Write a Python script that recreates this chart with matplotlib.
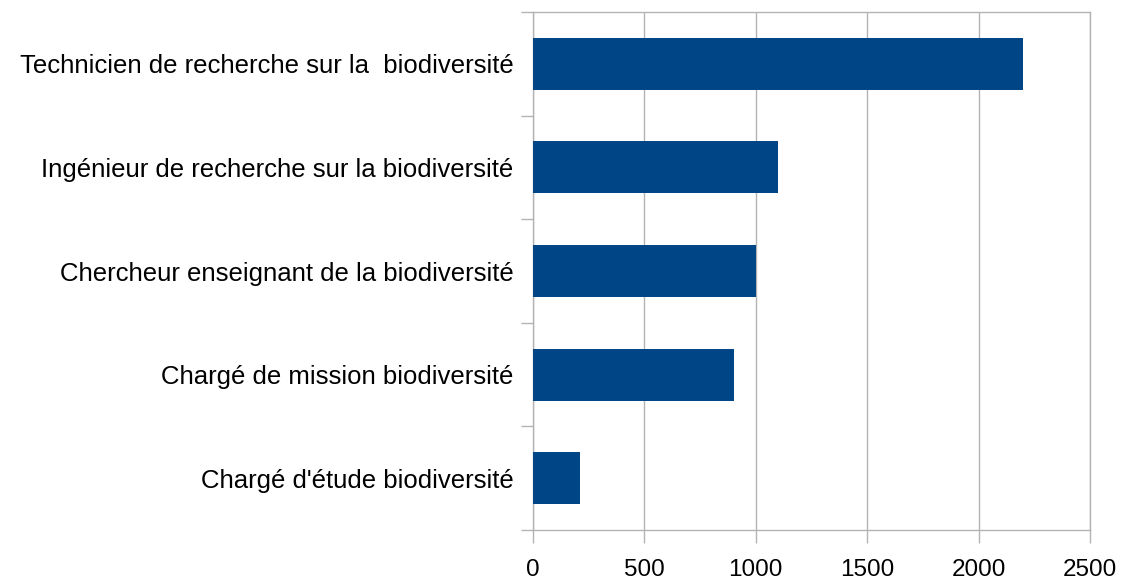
import matplotlib
matplotlib.use("Agg")
import matplotlib.pyplot as plt
import numpy as np

categories = [
    "Technicien de recherche sur la  biodiversité",
    "Ingénieur de recherche sur la biodiversité",
    "Chercheur enseignant de la biodiversité",
    "Chargé de mission biodiversité",
    "Chargé d'étude biodiversité",
]
values = [2200, 1100, 1000, 900, 210]
xticks = [0, 500, 1000, 1500, 2000, 2500]

plt.rcParams["font.family"] = ["Liberation Sans", "DejaVu Sans"]

fig = plt.figure(figsize=(11.24, 5.8), dpi=100)
ax = fig.add_axes([533 / 1124, 1 - 530 / 580, (1090 - 533) / 1124, (530 - 12) / 580])

n = len(categories)
pos = np.arange(n)[::-1]
ax.barh(pos, values, height=0.5, color="#004586", zorder=3)

ax.set_xlim(0, 2500)
ax.set_ylim(-0.5, n - 0.5)
ax.set_xticks(xticks)
ax.set_xticklabels([str(t) for t in xticks], fontsize=17.5)
ax.grid(axis="x", color="#b3b3b3", linewidth=1, zorder=0)

# category labels centred, tick marks on the boundaries
ax.set_yticks(pos)
ax.set_yticklabels(categories, fontsize=18.5)
ax.tick_params(axis="y", length=0, pad=14)
ax.set_yticks(np.arange(-0.5, n, 1), minor=True)
ax.tick_params(axis="y", which="minor", length=9, color="#b3b3b3", width=1)
ax.tick_params(axis="x", length=9, color="#b3b3b3", width=1, pad=12)

for s in ax.spines.values():
    s.set_color("#b3b3b3")
    s.set_linewidth(1)

fig.savefig("out.png", dpi=100)
